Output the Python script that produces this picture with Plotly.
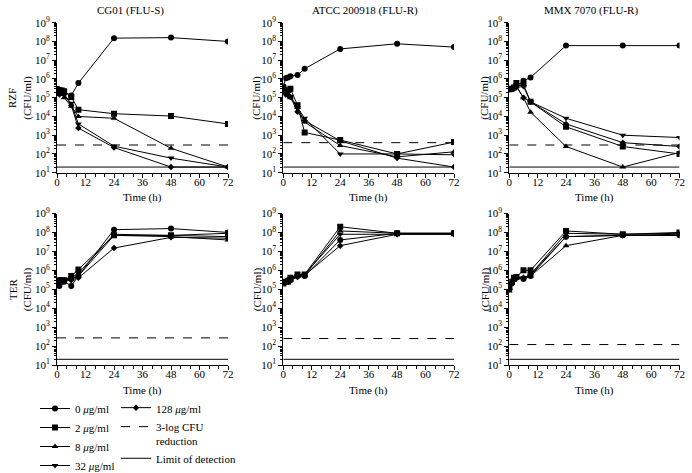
import plotly.graph_objects as go

W, H = 692, 473
SERIF = "Liberation Serif"

times = [0, 1, 2, 3, 6, 9, 24, 48, 72]
conc_labels = ["0 <i>μ</i>g/ml", "2 <i>μ</i>g/ml", "8 <i>μ</i>g/ml", "32 <i>μ</i>g/ml", "128 <i>μ</i>g/ml"]
symbols = ["circle", "square", "triangle-up", "triangle-down", "diamond"]
sizes = [6, 6, 6, 6, 5]

panel_titles = ["CG01 (FLU-S)", "ATCC 200918 (FLU-R)", "MMX 7070 (FLU-R)"]
row_labels = ["RZF", "TER"]

# RZF row (series order: 0, 2, 8, 32, 128 ug/ml)
cg01_rzf = [
    [3e5, 2.5e5, 2e5, 2e5, 1.3e5, 6e5, 1.5e8, 1.6e8, 1.0e8],
    [2.8e5, 2.6e5, 2.4e5, 2.2e5, 1.1e5, 2.3e4, 1.4e4, 1.05e4, 4e3],
    [2.5e5, 2e5, 1.5e5, 1.0e5, 3.5e4, 1.0e4, 8e3, 2e2, 20],
    [2.5e5, 2e5, 2e5, 1.5e5, 5e4, 4e3, 2.6e2, 6e1, 20],
    [2.5e5, 1.5e5, 1.8e5, 1.5e5, 4e4, 2.4e3, 2.2e2, 20, 20],
]
atcc_rzf = [
    [4e5, 1.1e6, 1.2e6, 1.4e6, 1.6e6, 3.5e6, 4e7, 7.5e7, 5e7],
    [3.5e5, 2e5, 2.5e5, 3e5, 4e4, 1.4e3, 5.5e2, 1e2, 4.3e2],
    [3e5, 2e5, 1.5e5, 1.0e5, 3e4, 5e3, 2.8e2, 7e1, 1.3e2],
    [3e5, 2e5, 1.8e5, 1.2e5, 3e4, 8e3, 1e2, 1e2, 9e1],
    [3e5, 1.5e5, 1.3e5, 1.1e5, 1.8e4, 6e3, 5e2, 6e1, 20],
]
mmx_rzf = [
    [2.8e5, 3e5, 3.5e5, 4e5, 8e5, 1.2e6, 6e7, 6e7, 6e7],
    [2.8e5, 3e5, 3.5e5, 6e5, 5e5, 6e4, 2.8e3, 2.5e2, 1e2],
    [2.8e5, 3e5, 3.5e5, 4e5, 1e5, 1.7e4, 2.5e2, 20, 1.2e2],
    [3e5, 3e5, 3.5e5, 5e5, 4e5, 6e4, 8e3, 1e3, 7.5e2],
    [3e5, 3e5, 3.5e5, 4e5, 1e5, 6e4, 4e3, 4e2, 2.5e2],
]
# TER row
cg01_ter = [
    [2.5e5, 1.5e5, 2.5e5, 2.5e5, 1.5e5, 5e5, 1.4e8, 1.6e8, 1e8],
    [2.5e5, 3e5, 3e5, 3e5, 5e5, 1.1e6, 7e7, 7e7, 9e7],
    [2.5e5, 2.5e5, 2.5e5, 3e5, 3.5e5, 5e5, 7e7, 6e7, 4e7],
    [2.5e5, 2.5e5, 3e5, 3e5, 4e5, 7e5, 8e7, 7e7, 6e7],
    [2.5e5, 2.5e5, 3e5, 3e5, 3e5, 4e5, 1.5e7, 5.5e7, 5e7],
]
atcc_ter = [
    [2.5e5, 2.5e5, 3e5, 3e5, 5e5, 5e5, 4e7, 9e7, 9e7],
    [2e5, 2.5e5, 2.5e5, 4e5, 6e5, 6e5, 2e8, 9e7, 9e7],
    [2e5, 2.5e5, 3e5, 3e5, 5e5, 5.5e5, 1.2e8, 9e7, 9e7],
    [2.5e5, 2.5e5, 3e5, 3.5e5, 5e5, 6e5, 8e7, 8e7, 8e7],
    [2.2e5, 2.5e5, 3e5, 3e5, 4.5e5, 5.5e5, 2e7, 8e7, 8e7],
]
mmx_ter = [
    [1e5, 2e5, 3.5e5, 4e5, 3.5e5, 5e5, 6e7, 7e7, 7e7],
    [1.2e5, 2.5e5, 4e5, 4.5e5, 1e6, 1e6, 1.2e8, 8e7, 1e8],
    [8e4, 2e5, 3e5, 4e5, 4e5, 5e5, 2e7, 7e7, 8e7],
    [1e5, 2e5, 3e5, 4e5, 4e5, 6e5, 9e7, 8e7, 9e7],
    [1e5, 2e5, 3e5, 4e5, 4e5, 6e5, 6e7, 7e7, 7e7],
]
panels = [cg01_rzf, atcc_rzf, mmx_rzf, cg01_ter, atcc_ter, mmx_ter]

reduction_levels = [3e2, 4e2, 3e2, 2.7e2, 2.5e2, 1.2e2]
lod_levels = [20, 20, 20, 20, 20, 20]

xticks = [0, 12, 24, 36, 48, 60, 72]
ytick_exps = [1, 2, 3, 4, 5, 6, 7, 8, 9]

# layout geometry (pixels)
col_px = [(57, 228), (283.3, 454), (509.3, 679.5)]
row_px = [(22.7, 172.7), (213.5, 365)]
title_cx = [130, 365, 591]
ylab_cx = [[20, 257, 485], [20, 257, 485]]

fig = go.Figure()
annotations = []
layout = {}


def label(text, xpx, ypx, angle=0):
    return dict(
        text=text, xref="paper", yref="paper", x=xpx / W, y=1 - ypx / H,
        xanchor="center", yanchor="middle", showarrow=False, textangle=angle,
        font=dict(family=SERIF, size=11, color="black"),
    )


for p, data in enumerate(panels):
    r, c = divmod(p, 3)
    ax = "" if p == 0 else str(p + 1)
    xa, ya = "x" + ax, "y" + ax
    for s, vals in enumerate(data):
        legend = "legend" if s < 4 else "legend2"
        fig.add_trace(go.Scatter(
            x=times, y=vals, mode="lines+markers", xaxis=xa, yaxis=ya,
            name=conc_labels[s], showlegend=(p == 0), legend=legend,
            line=dict(color="black", width=1),
            marker=dict(symbol=symbols[s], size=sizes[s], color="black"),
        ))
    fig.add_trace(go.Scatter(
        x=[times[0], times[-1]], y=[reduction_levels[p]] * 2, mode="lines",
        xaxis=xa, yaxis=ya, name="3-log CFU<br>reduction", showlegend=(p == 0),
        legend="legend2", line=dict(color="black", width=1, dash="dash"),
    ))
    fig.add_trace(go.Scatter(
        x=[times[0], times[-1]], y=[lod_levels[p]] * 2, mode="lines",
        xaxis=xa, yaxis=ya, name="Limit of detection", showlegend=(p == 0),
        legend="legend2", line=dict(color="black", width=1),
    ))

    x0, x1 = col_px[c]
    y0, y1 = row_px[r]
    layout["xaxis" + ax] = dict(
        domain=[x0 / W, x1 / W], anchor=ya, range=[0, 72], automargin=False,
        tickmode="array", tickvals=xticks, ticks="outside", ticklen=4,
        tickwidth=1, tickcolor="black", showline=True, linecolor="black",
        linewidth=1, showgrid=False, zeroline=False,
        showticklabels=True, ticklabelstandoff=-5,
        tickfont=dict(family=SERIF, size=11, color="black"),
        minor=dict(dtick=4, ticks="outside", ticklen=3, tickcolor="black", showgrid=False),
    )
    layout["yaxis" + ax] = dict(
        domain=[1 - y1 / H, 1 - y0 / H], anchor=xa, type="log", range=[1, 9],
        automargin=False,
        tickmode="array", tickvals=[10 ** e for e in ytick_exps],
        ticktext=["10<sup>%d</sup>" % e for e in ytick_exps],
        ticks="outside", ticklen=4, tickwidth=1, tickcolor="black",
        showline=True, linecolor="black", linewidth=1, showgrid=False,
        zeroline=False, tickfont=dict(family=SERIF, size=11, color="black"),
        minor=dict(dtick="D1", ticks="outside", ticklen=2, tickcolor="black", showgrid=False),
    )
    annotations.append(label("Time (h)", (x0 + x1) / 2, y1 + 25))
    ytxt = (row_labels[r] + "<br>(CFU/ml)") if c == 0 else "(CFU/ml)"
    annotations.append(label(ytxt, ylab_cx[r][c], (y0 + y1) / 2, -90))

for c in range(3):
    annotations.append(label(panel_titles[c], title_cx[c], 10))

fig.update_layout(
    template="none",
    width=W, height=H, margin=dict(l=0, r=0, t=0, b=0, autoexpand=False),
    paper_bgcolor="white", plot_bgcolor="white",
    font=dict(family=SERIF, size=11, color="black"),
    annotations=annotations,
    legend=dict(x=35 / W, y=1 - 394 / H, xanchor="left", yanchor="top",
                bgcolor="rgba(0,0,0,0)", tracegroupgap=0, borderwidth=0,
                font=dict(family=SERIF, size=11, color="black")),
    legend2=dict(x=116 / W, y=1 - 394 / H, xanchor="left", yanchor="top",
                 bgcolor="rgba(0,0,0,0)", tracegroupgap=0, valign="top", borderwidth=0,
                 font=dict(family=SERIF, size=11, color="black")),
    **layout,
)

fig.write_html("out.html", config={"displayModeBar": False},
               post_script="document.body.style.margin='0';")
